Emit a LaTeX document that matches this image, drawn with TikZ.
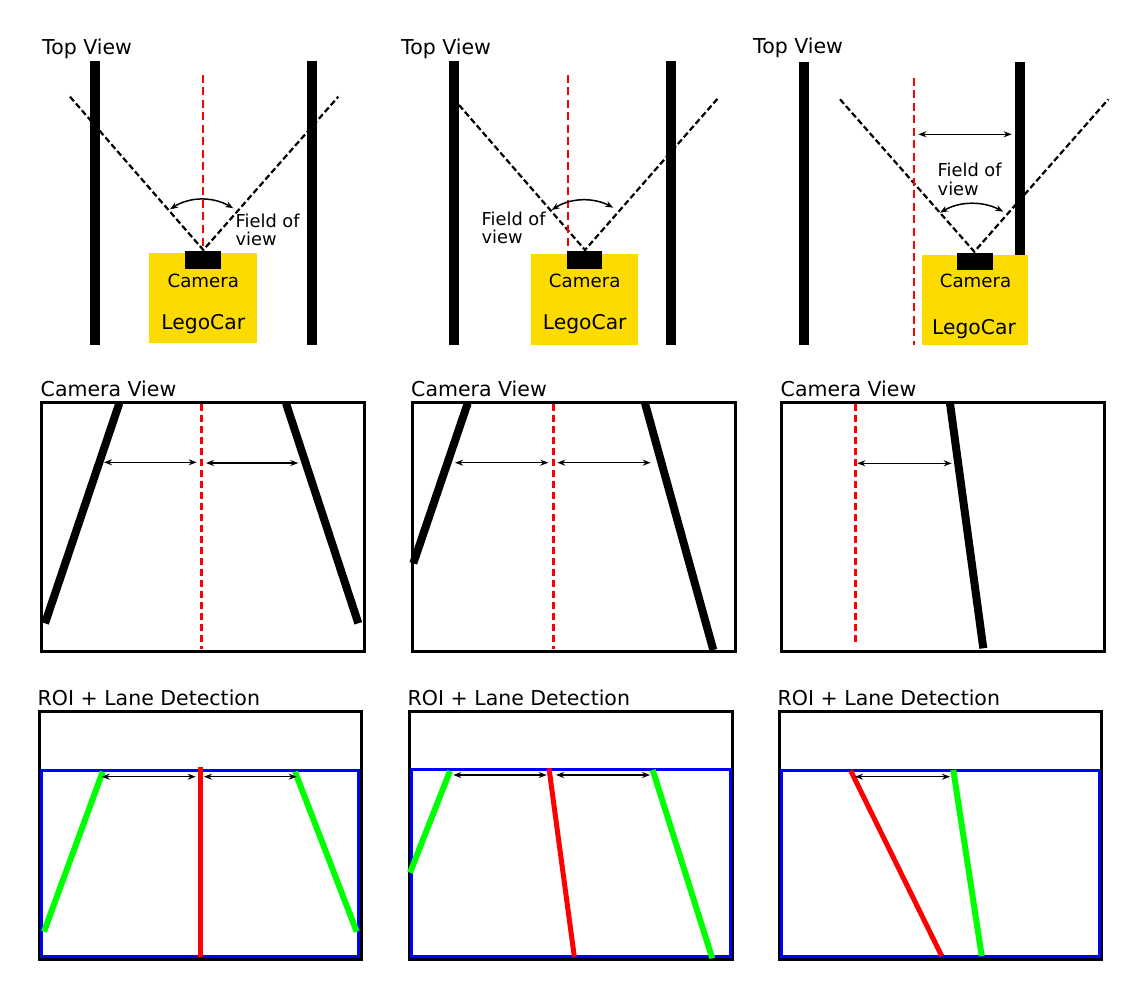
\documentclass[tikz,border=0pt]{standalone}
\usepackage{fontspec}
\setmainfont{DejaVu Sans}
\usetikzlibrary{arrows.meta}
\definecolor{legoyellow}{RGB}{252,220,0}
\definecolor{lanegreen}{RGB}{0,255,0}
\definecolor{roiblue}{RGB}{0,0,255}
\definecolor{centerred}{RGB}{255,0,0}
\begin{document}
\begin{tikzpicture}[x=1pt,y=-1pt,
  title/.style={anchor=base west,inner sep=0pt,font=\fontsize{20.5}{24}\selectfont},
  camlabel/.style={anchor=base,inner sep=0pt,font=\fontsize{18.2}{20}\selectfont},
  carlabel/.style={anchor=base,inner sep=0pt,font=\fontsize{20.3}{24}\selectfont},
  fovlabel/.style={anchor=north west,inner sep=0pt,align=left,font=\fontsize{17.8}{18.7}\selectfont},
  wall/.style={fill=black},
  fovline/.style={draw=black,line width=2.2pt,dash pattern=on 6pt off 3pt},
  topred/.style={draw=centerred,line width=2pt,dash pattern=on 8pt off 4.5pt},
  midred/.style={draw=centerred,line width=3pt,dash pattern=on 7pt off 4pt},
  carbody/.style={fill=legoyellow},
  cambox/.style={fill=black},
  frame/.style={draw=black,line width=3pt},
  roibox/.style={draw=roiblue,line width=3pt},
  lane/.style={draw=black,line width=8pt},
  greenlane/.style={draw=lanegreen,line width=6pt},
  redlane/.style={draw=centerred,line width=5pt},
  dimarrow/.style={line width=1.3pt,{Stealth[length=8pt,width=6pt]}-{Stealth[length=8pt,width=6pt]}},
  fovarrow/.style={line width=1.5pt,{Stealth[length=8pt,width=6pt]}-{Stealth[length=8pt,width=6pt]}}
]
\useasboundingbox (0,0) rectangle (1147,1000);
\fill[white] (0,0) rectangle (1147,1000);

% ================= TOP ROW =================
% ---- panel 1
\node[title] (t1) at (42,55) {Top View};
\draw[fovline] (70,96.7) -- (203.3,250) -- (338.3,96.7);
\fill[wall] (90,61) rectangle (100,345);
\fill[wall] (307,61) rectangle (317,345);
\draw[topred] (203.3,75) -- (203.3,250);
\fill[carbody] (149.3,252.7) rectangle (257.3,343.3);
\fill[cambox] (185.3,250.7) rectangle (221,269.3);
\node[camlabel] (cam1) at (203.3,287.3) {Camera};
\node[carlabel] (car1) at (203.3,329) {LegoCar};
\coordinate (a1s) at (170,209.3);
\coordinate (a1e) at (233.3,208.3);
\draw[fovarrow] (a1s) .. controls (190,196.5) and (213,196.5) .. (a1e);
\node[fovlabel] (f1) at (235.5,213.5) {Field of\\view};

% ---- panel 2
\node[title] (t2) at (401,55) {Top View};
\draw[fovline] (459,105) -- (585,250) -- (719.3,96.7);
\fill[wall] (449.3,61) rectangle (459.3,345);
\fill[wall] (666,61) rectangle (676,345);
\draw[topred] (568.3,75) -- (568.3,250);
\fill[carbody] (531,254) rectangle (638.3,345);
\fill[cambox] (566.7,251) rectangle (602.3,269.3);
\node[camlabel] (cam2) at (584.7,287.3) {Camera};
\node[carlabel] (car2) at (584.7,329) {LegoCar};
\coordinate (a2s) at (551.7,210);
\coordinate (a2e) at (613.3,207.7);
\draw[fovarrow] (a2s) .. controls (571,197.5) and (594,197.5) .. (a2e);
\node[fovlabel] (f2) at (481.5,211.5) {Field of\\view};

% ---- panel 3
\node[title] (t3) at (753,54) {Top View};
\draw[fovline] (840,99.3) -- (974.3,251.7) -- (1108.3,99.3);
\fill[wall] (798.7,62) rectangle (808.7,345);
\fill[wall] (1015.3,62) rectangle (1025.3,345);
\draw[topred] (914.3,78) -- (914.3,345);
\fill[carbody] (921.7,255.3) rectangle (1028.3,345);
\fill[cambox] (957.3,252.7) rectangle (993.3,270);
\node[camlabel] (cam3) at (975.5,287.3) {Camera};
\node[carlabel] (car3) at (974,334) {LegoCar};
\coordinate (h3s) at (918.3,134.3);
\coordinate (h3e) at (1011.7,134.3);
\draw[fovarrow] (h3s) -- (h3e);
\coordinate (a3s) at (940,212.7);
\coordinate (a3e) at (1003.3,211.7);
\draw[fovarrow] (a3s) .. controls (960,201) and (983,201) .. (a3e);
\node[fovlabel] (f3) at (937.5,163) {Field of\\view};

% ================= MIDDLE ROW =================
% ---- panel 1
\node[title] (c1) at (40.5,396.7) {Camera View};
\draw[lane] (119.3,403.3) -- (45,623.3);
\draw[lane] (286,403.3) -- (358.3,623.3);
\draw[midred] (201.7,404) -- (201.7,649);
\draw[frame] (41,402.7) rectangle (364.3,651);
\coordinate (m1a) at (104,462.3);
\coordinate (m1b) at (196.7,462.3);
\coordinate (m1c) at (206,463);
\coordinate (m1d) at (298.3,463);
\draw[dimarrow] (m1a) -- (m1b);
\draw[dimarrow] (m1c) -- (m1d);

% ---- panel 2
\node[title] (c2) at (411,396.7) {Camera View};
\draw[lane] (467.7,403.3) -- (413.3,563.3);
\draw[lane] (645,403.3) -- (713.3,650);
\draw[midred] (553.3,404) -- (553.3,649);
\draw[frame] (412.3,402.7) rectangle (735,651);
\coordinate (m2a) at (455,462.7);
\coordinate (m2b) at (548.3,462.7);
\coordinate (m2c) at (557.3,462.7);
\coordinate (m2d) at (650.7,462.7);
\draw[dimarrow] (m2a) -- (m2b);
\draw[dimarrow] (m2c) -- (m2d);

% ---- panel 3
\node[title] (c3) at (780.5,396.7) {Camera View};
\draw[lane] (950,403.3) -- (983.3,648.3);
\draw[midred] (855,404) -- (855,646);
\draw[frame] (781.7,402.7) rectangle (1104.3,651);
\coordinate (m3a) at (857.3,463.3);
\coordinate (m3b) at (951.7,463.3);
\draw[dimarrow] (m3a) -- (m3b);

% ================= BOTTOM ROW =================
% ---- panel 1
\node[title] (r1) at (37.5,705) {ROI + Lane Detection};
\draw[frame] (39.3,711.7) rectangle (361.7,959.3);
\draw[roibox] (41.7,770.3) rectangle (358.3,956);
\draw[greenlane] (102.7,771.7) -- (44,931.7);
\draw[greenlane] (295,771.7) -- (356.7,931.7);
\draw[redlane] (200.3,767.3) -- (200.3,956.7);
\coordinate (b1a) at (101.7,776.7);
\coordinate (b1b) at (195.7,776.7);
\coordinate (b1c) at (204,776.7);
\coordinate (b1d) at (296.7,776.7);
\draw[dimarrow] (b1a) -- (b1b);
\draw[dimarrow] (b1c) -- (b1d);

% ---- panel 2
\node[title] (r2) at (407.5,705) {ROI + Lane Detection};
\draw[frame] (409.3,711.7) rectangle (732.7,959.3);
\draw[roibox] (411,769.3) rectangle (730,956);
\draw[greenlane] (450,771) -- (410,872.7);
\draw[greenlane] (652.7,770) -- (712.3,958.3);
\draw[redlane] (549,768.3) -- (574.3,956.7);
\coordinate (b2a) at (453.3,775);
\coordinate (b2b) at (546.7,775);
\coordinate (b2c) at (556,775);
\coordinate (b2d) at (650,775);
\draw[dimarrow] (b2a) -- (b2b);
\draw[dimarrow] (b2c) -- (b2d);

% ---- panel 3
\node[title] (r3) at (777.5,705) {ROI + Lane Detection};
\draw[frame] (779.3,711.7) rectangle (1101.7,959.3);
\draw[roibox] (781.7,770.7) rectangle (1099.3,956);
\draw[redlane] (850.7,770.7) -- (941.7,956);
\draw[greenlane] (953.3,770) -- (981.7,956);
\coordinate (b3a) at (855,776.7);
\coordinate (b3b) at (950,776.7);
\draw[dimarrow] (b3a) -- (b3b);
\end{tikzpicture}
\end{document}
